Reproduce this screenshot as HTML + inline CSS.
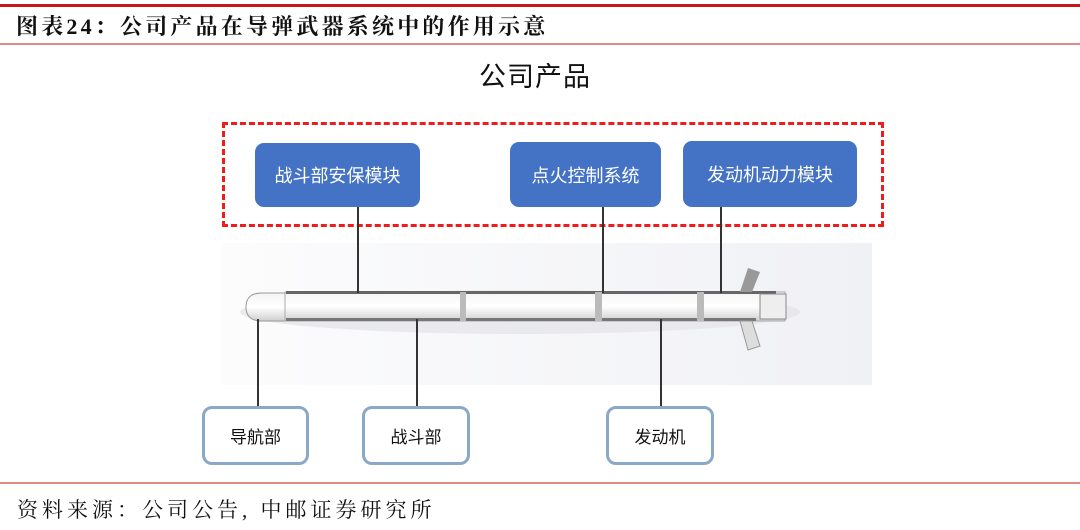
<!DOCTYPE html>
<html><head><meta charset="utf-8"><style>
body{margin:0;width:1080px;height:530px;background:#fff;position:relative;overflow:hidden;font-family:"Liberation Serif","Noto Serif CJK SC",serif}
.a{position:absolute}
.bb{position:absolute;background:#4472c4;border-radius:9px;color:#fff;font-size:18px;display:flex;align-items:center;justify-content:center;font-family:"Liberation Sans","Noto Sans CJK SC",sans-serif}
.wb{position:absolute;background:#fff;border:3px solid #8aa9c9;border-radius:10px;box-sizing:border-box;color:#111;font-size:17px;display:flex;align-items:center;justify-content:center;font-family:"Liberation Sans","Noto Sans CJK SC",sans-serif}
.v{position:absolute;width:2px;background:#333}
</style></head><body>
<div class="a" style="left:0;top:4px;width:1080px;height:3px;background:#c8161d"></div>
<div class="a" style="left:16px;top:10px;font-size:22px;font-weight:bold;color:#111;letter-spacing:3.2px;white-space:nowrap">图表24：公司产品在导弹武器系统中的作用示意</div>
<div class="a" style="left:0;top:43px;width:1080px;height:2px;background:#e08a8a"></div>
<div class="a" style="left:479px;top:55px;font-size:27px;color:#111;letter-spacing:1px;font-family:'Liberation Sans','Noto Sans CJK SC',sans-serif">公司产品</div>
<div class="a" style="left:222px;top:243px;width:650px;height:142px;background:linear-gradient(90deg,#fcfcfd,#f0f1f5)"></div>
<div class="a" style="left:222px;top:122px;width:662px;height:105px;border:3px dashed #f01c1c;box-sizing:border-box"></div>
<div class="bb" style="left:255px;top:143px;width:165px;height:64px">战斗部安保模块</div>
<div class="bb" style="left:510px;top:142px;width:151px;height:65px">点火控制系统</div>
<div class="bb" style="left:683px;top:141px;width:174px;height:66px">发动机动力模块</div>
<svg class="a" style="left:0;top:0" width="1080" height="530">
<defs><linearGradient id="g" x1="0" y1="0" x2="0" y2="1"><stop offset="0" stop-color="#f4f4f4"/><stop offset="0.5" stop-color="#fff"/><stop offset="1" stop-color="#cfcfcf"/></linearGradient></defs>
<ellipse cx="520" cy="312" rx="280" ry="22" fill="#e2e3e8" opacity="0.7"/>
<path d="M262 293 L285 293 L285 321 L262 321 Q246 321 246 307 Q246 293 262 293Z" fill="url(#g)" stroke="#999" stroke-width="1"/>
<rect x="285" y="292" width="500" height="29" fill="url(#g)" stroke="#aaa" stroke-width="1"/>
<rect x="286" y="291" width="490" height="3" fill="#666"/>
<rect x="286" y="318" width="470" height="3" fill="#777"/>
<rect x="460" y="292" width="6" height="29" fill="#bbb"/>
<rect x="595" y="292" width="7" height="29" fill="#bbb"/>
<rect x="697" y="292" width="7" height="29" fill="#bbb"/>
<path d="M740 292 L748 268 L760 272 L752 292Z" fill="#999"/>
<path d="M740 321 L752 321 L760 346 L748 350Z" fill="#ddd" stroke="#999"/>
<rect x="760" y="294" width="26" height="25" fill="#eee" stroke="#888"/>
</svg>
<div class="v" style="left:357px;top:207px;height:86px"></div>
<div class="v" style="left:602px;top:207px;height:86px"></div>
<div class="v" style="left:720px;top:207px;height:86px"></div>
<div class="v" style="left:257px;top:319px;height:88px"></div>
<div class="v" style="left:416px;top:319px;height:88px"></div>
<div class="v" style="left:660px;top:319px;height:88px"></div>
<div class="wb" style="left:202px;top:406px;width:107px;height:59px">导航部</div>
<div class="wb" style="left:362px;top:406px;width:108px;height:59px">战斗部</div>
<div class="wb" style="left:606px;top:406px;width:108px;height:59px">发动机</div>
<div class="a" style="left:0;top:482px;width:1080px;height:2px;background:#e08a8a"></div>
<div class="a" style="left:17px;top:494px;font-size:21px;color:#111;letter-spacing:4px;white-space:nowrap">资料来源：公司公告, 中邮证券研究所</div>
</body></html>
